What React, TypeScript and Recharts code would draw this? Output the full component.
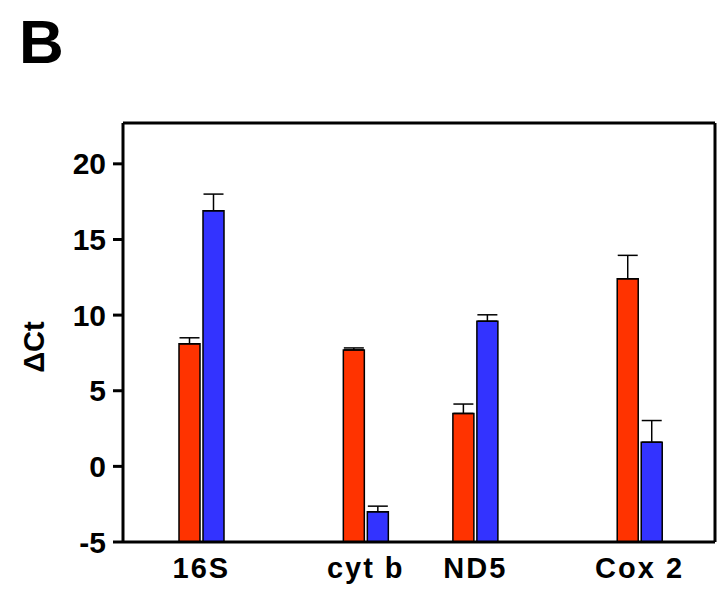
import React from "react";
import {
  BarChart,
  Bar,
  XAxis,
  YAxis,
  ErrorBar,
  CartesianGrid,
} from "recharts";

const genes = ["16S", "cyt b", "ND5", "Cox 2"];
const ctRed = [8.1, 7.7, 3.5, 12.4];
const semRed = [0.4, 0.13, 0.62, 1.55];
const ctBlue = [16.9, -3.0, 9.6, 1.6];
const semBlue = [1.1, 0.37, 0.42, 1.43];
const yTicks = [-5, 0, 5, 10, 15, 20];

// band index of each gene on the x axis; the empty bands give the uneven spacing
const geneSlots = [0, 3, 5, 8];
const slotCount = 9;

const Y_MIN = -5;
const Y_MAX = 22.7;
const FONT = "'Liberation Sans', Arial, Helvetica, sans-serif";
const frame = { stroke: "#000", strokeWidth: 3 };

const rows = Array.from({ length: slotCount }, (_, slot) => {
  const i = geneSlots.indexOf(slot);
  if (i < 0) return { gene: "" };
  return {
    gene: genes[i],
    red: ctRed[i],
    blue: ctBlue[i],
    redErr: [0, semRed[i]],
    blueErr: [0, semBlue[i]],
  };
});

// bars start at the bottom of the axis rather than at zero
const fromFloor = (key: "red" | "blue") => (d: any) =>
  d[key] === undefined ? undefined : [Y_MIN, d[key]];

// grid reduced to the top and right edges of the box
const topEdge = ({ offset }: any) => [offset.top];
const rightEdge = ({ offset }: any) => [offset.left + offset.width];

export default function App() {
  return (
    <div style={{ position: "absolute", left: 0, top: 0, width: 720, height: 596, background: "#fff" }}>
      <BarChart
        width={720}
        height={596}
        data={rows}
        margin={{ top: 123, right: 5, bottom: 0, left: 0 }}
        barSize={21}
        barGap={3}
      >
        <CartesianGrid
          stroke="#000"
          strokeWidth={3}
          horizontalCoordinatesGenerator={topEdge}
          verticalCoordinatesGenerator={rightEdge}
        />
        <XAxis
          dataKey="gene"
          interval={0}
          padding={{ left: 51, right: 48 }}
          height={54}
          axisLine={frame}
          tickLine={false}
          tickSize={0}
          tickMargin={15}
          tick={{ fill: "#000", fontSize: 29, fontWeight: 700, fontFamily: FONT, letterSpacing: 2 }}
        />
        <YAxis
          width={123}
          type="number"
          domain={[Y_MIN, Y_MAX]}
          ticks={yTicks}
          allowDataOverflow
          axisLine={frame}
          tickLine={frame}
          tickSize={10}
          tickMargin={7}
          tick={{ fill: "#000", fontSize: 30, fontWeight: 700, fontFamily: FONT }}
        />
        <Bar dataKey={fromFloor("red")} fill="#ff3300" stroke="#000" strokeWidth={1.5} isAnimationActive={false}>
          <ErrorBar dataKey="redErr" width={10} stroke="#000" strokeWidth={1.5} direction="y" />
        </Bar>
        <Bar dataKey={fromFloor("blue")} fill="#3333ff" stroke="#000" strokeWidth={1.5} isAnimationActive={false}>
          <ErrorBar dataKey="blueErr" width={10} stroke="#000" strokeWidth={1.5} direction="y" />
        </Bar>
      </BarChart>
      <svg
        width={720}
        height={596}
        style={{ position: "absolute", left: 0, top: 0, pointerEvents: "none" }}
      >
        <text x={19} y={63} fontSize={62} fontWeight={700} fontFamily={FONT} fill="#000">
          B
        </text>
        <text
          x={44}
          y={347}
          transform="rotate(-90 44 347)"
          textAnchor="middle"
          fontSize={29}
          fontWeight={700}
          fontFamily={FONT}
          fill="#000"
        >
          ΔCt
        </text>
      </svg>
    </div>
  );
}
